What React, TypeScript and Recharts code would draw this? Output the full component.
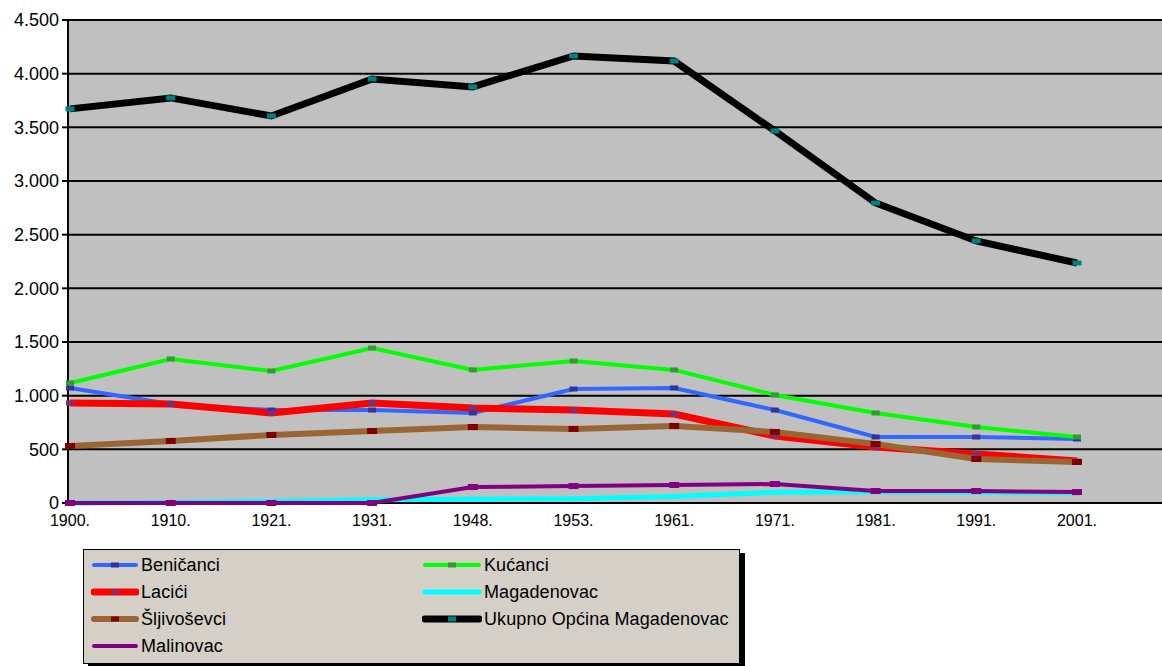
import React from 'react';
import { LineChart, Line, XAxis, YAxis, CartesianGrid } from 'recharts';

const years = ['1900.', '1910.', '1921.', '1931.', '1948.', '1953.', '1961.', '1971.', '1981.', '1991.', '2001.'];

const benicanci = [1072, 922, 866, 866, 839, 1062, 1072, 866, 615, 615, 596];
const kucanci = [1118, 1342, 1230, 1444, 1240, 1323, 1240, 1006, 839, 708, 615];
const lacici = [932, 922, 839, 932, 885, 866, 829, 624, 522, 457, 391];
const magadenovac = [0, 5, 15, 30, 35, 40, 60, 100, 105, 100, 95];
const sljivosevci = [531, 578, 634, 671, 708, 690, 718, 662, 550, 410, 382];
const ukupno = [3672, 3774, 3606, 3951, 3877, 4165, 4118, 3466, 2795, 2441, 2236];
const malinovac = [0, 0, 0, 0, 149, 158, 168, 177, 112, 112, 102];

const yTicks = [0, 500, 1000, 1500, 2000, 2500, 3000, 3500, 4000, 4500];

const data = years.map((year, i) => ({
  year,
  benicanci: benicanci[i],
  kucanci: kucanci[i],
  lacici: lacici[i],
  magadenovac: magadenovac[i],
  sljivosevci: sljivosevci[i],
  ukupno: ukupno[i],
  malinovac: malinovac[i],
}));

const series = [
  { key: 'benicanci', name: 'Beničanci', color: '#3366FF', width: 4, marker: '#333399', mw: 8, mh: 5 },
  { key: 'kucanci', name: 'Kućanci', color: '#00FF00', width: 4, marker: '#339933', mw: 8, mh: 5 },
  { key: 'lacici', name: 'Lacići', color: '#FF0000', width: 7, marker: '#7F2F6F', mw: 8, mh: 5 },
  { key: 'magadenovac', name: 'Magadenovac', color: '#00FFFF', width: 5, marker: null, mw: 0, mh: 0 },
  { key: 'sljivosevci', name: 'Šljivoševci', color: '#996633', width: 6, marker: '#800000', mw: 10, mh: 6 },
  { key: 'ukupno', name: 'Ukupno Općina Magadenovac', color: '#000000', width: 7, marker: '#008080', mw: 9, mh: 5 },
  { key: 'malinovac', name: 'Malinovac', color: '#800080', width: 4, marker: '#800080', mw: 10, mh: 6 },
];

const fmt = (v: number) => {
  const s = String(v);
  return s.length > 3 ? s.slice(0, s.length - 3) + '.' + s.slice(-3) : s;
};

const makeDot = (color: string | null, w: number, h: number) => (props: any) => {
  const { cx, cy, index } = props;
  if (!color || cx == null || cy == null) return <g key={`d-${index}`} />;
  return <rect key={`d-${index}`} x={cx - w / 2} y={cy - h / 2} width={w} height={h} fill={color} />;
};

const font = '"Liberation Sans", Arial, sans-serif';

function LegendBox() {
  const rows = [
    [series[0], series[1]],
    [series[2], series[3]],
    [series[4], series[5]],
    [series[6], null],
  ];
  return (
    <div
      style={{
        position: 'absolute',
        left: 83,
        top: 549,
        width: 655,
        height: 113,
        background: '#D4D0C8',
        border: '1px solid #000',
        boxShadow: '5px 4px 0 #000',
        fontFamily: font,
        fontSize: 18,
        letterSpacing: 0.1,
        color: '#000',
      }}
    >
      {rows.map((row, r) =>
        row.map((s, c) =>
          s ? (
            <div
              key={s.key}
              style={{
                position: 'absolute',
                left: c === 0 ? 7 : 338,
                top: 3 + r * 27,
                height: 24,
                display: 'flex',
                alignItems: 'center',
                whiteSpace: 'nowrap',
              }}
            >
              <svg width={c === 0 ? 48 : 60} height={12} style={{ marginRight: 2, flex: 'none' }}>
                <line x1={3} y1={6} x2={c === 0 ? 45 : 57} y2={6} stroke={s.color} strokeWidth={s.width} strokeLinecap="round" />
                {s.marker && s.key !== 'malinovac' ? (
                  <rect x={c === 0 ? 20 : 26} y={3.5} width={8} height={5} fill={s.marker} />
                ) : null}
              </svg>
              <span>{s.name}</span>
            </div>
          ) : null
        )
      )}
    </div>
  );
}

export default function App() {
  return (
    <div style={{ position: 'absolute', left: 0, top: 0, width: 1162, height: 666, background: '#fff' }}>
      <LineChart width={1162} height={666} data={data} margin={{ top: 20, right: 0, left: 8, bottom: 133 }}>
        <CartesianGrid vertical={false} stroke="#000" strokeWidth={2} fill="#C0C0C0" fillOpacity={1} />
        <XAxis
          dataKey="year"
          padding={{ left: 2, right: 85 }}
          axisLine={false}
          tickLine={false}
          height={30}
          tickMargin={6}
          tick={{ fill: '#000', fontSize: 16, fontFamily: font }}
          interval={0}
        />
        <YAxis
          width={60}
          domain={[0, 4500]}
          ticks={yTicks}
          tickFormatter={fmt}
          axisLine={{ stroke: '#000', strokeWidth: 2 }}
          tickLine={{ stroke: '#000', strokeWidth: 2 }}
          tickSize={6}
          tickMargin={3}
          tick={{ fill: '#000', fontSize: 18, fontFamily: font }}
          interval={0}
        />
        {series.map((s) => (
          <Line
            key={s.key}
            dataKey={s.key}
            name={s.name}
            type="linear"
            stroke={s.color}
            strokeWidth={s.width}
            dot={makeDot(s.marker, s.mw, s.mh)}
            activeDot={false}
            isAnimationActive={false}
          />
        ))}
      </LineChart>
      <LegendBox />
    </div>
  );
}
